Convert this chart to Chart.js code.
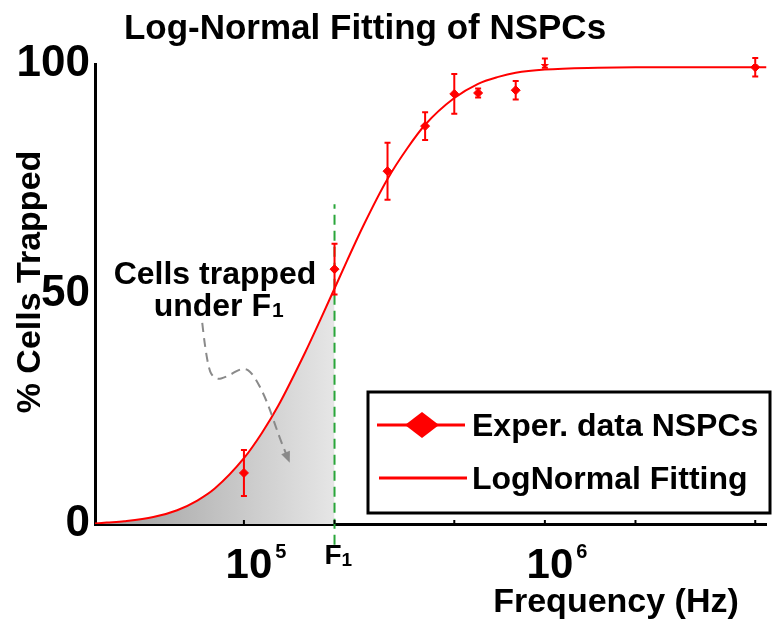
<!DOCTYPE html>
<html>
<head>
<meta charset="utf-8">
<script src="https://cdn.jsdelivr.net/npm/chart.js@4"></script>
<style>
  body{margin:0;background:#fff}
  #canvasContainer{width:772px;height:622px}
</style>
</head>
<body>
<div id="canvasContainer"><canvas id="myChart"></canvas></div>
<script>
// datos experimentales (Hz, % atrapadas, error)
const frecuencias = [1e5, 2e5, 3e5, 4e5, 5e5, 6e5, 8e5, 1e6, 5e6]
const porcentajes = [11.1, 55.4, 76.7, 86.5, 93.5, 93.7, 94.3, 100.2, 99.3]
const errores = [5, 5.5, 6.2, 3, 4.3, 1, 2, 1, 2]

// curva de ajuste
const ajusteX = [3.2e4, 3.5e4, 4e4, 5e4, 6e4, 7e4, 8e4, 1e5, 1.15e5, 1.3e5, 1.6e5, 1.8e5, 2e5, 2.2e5, 2.5e5, 3e5, 3.5e5, 4e5, 5e5, 6e5, 7e5, 8e5, 1e6, 1.5e6, 2e6, 5.45e6]
const ajusteY = [0.1, 0.3, 0.6, 1.5, 3.0, 5.1, 7.7, 14.3, 19.9, 25.7, 37.4, 44.6, 51.2, 57.2, 65, 75, 81.8, 86.8, 92.6, 95.7, 97.2, 98.1, 98.8, 99.2, 99.3, 99.3]

const F1 = 2e5
const ticksX = [1e5, 2e5, 5e5, 1e6, 2e6, 5e6]
const ticksY = [0, 50, 100]
const etiquetasX = [
  {valor: 1e5, texto: '10', sup: '5'},
  {valor: F1, texto: 'F', sub: '1'},
  {valor: 1e6, texto: '10', sup: '6'}
]

// flecha "Cells trapped under F1"
const flechaX = [7.27e4, 7.55e4, 8.02e4, 8.79e4, 9.93e4, 1.07e5, 1.19e5, 1.31e5, 1.42e5]
const flechaY = [43.7, 34.1, 31.3, 32.0, 34.1, 32.8, 27, 18.9, 13.3]

const rojo = '#ff0000'
const fuente = '"Liberation Sans", Arial, sans-serif'

const puntos = frecuencias.map((f, i) => ({x: f, y: porcentajes[i]}))
const curva = ajusteX.map((f, i) => ({x: f, y: ajusteY[i]}))
const area = curva.filter(p => p.x <= F1)

const errorBars = {
  id: 'errorBars',
  afterDatasetsDraw(chart) {
    const {ctx, scales: {x, y}} = chart
    ctx.save()
    ctx.strokeStyle = rojo
    ctx.lineWidth = 2
    frecuencias.forEach((f, i) => {
      const px = x.getPixelForValue(f)
      const y1 = y.getPixelForValue(porcentajes[i] + errores[i])
      const y2 = y.getPixelForValue(porcentajes[i] - errores[i])
      ctx.beginPath()
      ctx.moveTo(px, y1); ctx.lineTo(px, y2)
      ctx.moveTo(px - 3, y1); ctx.lineTo(px + 3, y1)
      ctx.moveTo(px - 3, y2); ctx.lineTo(px + 3, y2)
      ctx.stroke()
    })
    ctx.restore()
  }
}

const textos = {
  id: 'textos',
  afterDraw(chart) {
    const {ctx, scales: {x, y}, chartArea} = chart
    ctx.save()
    ctx.fillStyle = '#000'
    ctx.textBaseline = 'alphabetic'

    // titulo
    ctx.font = 'bold 35px ' + fuente
    ctx.textAlign = 'center'
    ctx.fillText('Log-Normal Fitting of NSPCs', 365, 39)

    // titulo eje y
    ctx.save()
    ctx.translate(40, 282)
    ctx.rotate(-Math.PI / 2)
    ctx.font = 'bold 34px ' + fuente
    ctx.fillText('% Cells Trapped', 0, 0)
    ctx.restore()

    // titulo eje x
    ctx.font = 'bold 34px ' + fuente
    ctx.fillText('Frequency (Hz)', 616, 612)

    // marcas eje x
    ctx.strokeStyle = '#000'
    ctx.lineWidth = 2
    ticksX.forEach(v => {
      const px = x.getPixelForValue(v)
      ctx.beginPath(); ctx.moveTo(px, chartArea.bottom); ctx.lineTo(px, chartArea.bottom - 4); ctx.stroke()
    })

    // etiquetas eje x
    etiquetasX.forEach(e => {
      const px = x.getPixelForValue(e.valor)
      if (e.sup) {
        ctx.font = 'bold 42px ' + fuente
        ctx.textAlign = 'center'
        const w = ctx.measureText(e.texto).width
        ctx.fillText(e.texto, px + 5, 578)
        ctx.font = 'bold 20px ' + fuente
        ctx.textAlign = 'left'
        ctx.fillText(e.sup, px + 5 + w / 2 + 3, 558)
      } else {
        ctx.font = 'bold 28px ' + fuente
        ctx.textAlign = 'right'
        ctx.fillText(e.texto, px + 7, 564)
        ctx.font = 'bold 19px ' + fuente
        ctx.textAlign = 'left'
        ctx.fillText(e.sub, px + 7, 566)
      }
    })

    // anotacion
    ctx.font = 'bold 32px ' + fuente
    ctx.textAlign = 'center'
    ctx.fillText('Cells trapped', 215, 284)
    ctx.textAlign = 'right'
    ctx.fillText('under F', 271, 316)
    ctx.font = 'bold 21px ' + fuente
    ctx.textAlign = 'left'
    ctx.fillText('1', 272, 317)

    // flecha discontinua
    const pts = flechaX.map((f, i) => [x.getPixelForValue(f), y.getPixelForValue(flechaY[i])])
    ctx.strokeStyle = '#8a8a8a'
    ctx.fillStyle = '#8a8a8a'
    ctx.lineWidth = 2
    ctx.setLineDash([9, 6])
    ctx.beginPath()
    ctx.moveTo(pts[0][0], pts[0][1])
    for (let i = 1; i < pts.length - 1; i++) {
      const mx = (pts[i][0] + pts[i + 1][0]) / 2
      const my = (pts[i][1] + pts[i + 1][1]) / 2
      ctx.quadraticCurveTo(pts[i][0], pts[i][1], mx, my)
    }
    const fin = pts[pts.length - 1], prev = pts[pts.length - 2]
    const ang = Math.atan2(fin[1] - prev[1], fin[0] - prev[0])
    ctx.lineTo(fin[0] - 8 * Math.cos(ang), fin[1] - 8 * Math.sin(ang))
    ctx.stroke()
    ctx.setLineDash([])
    ctx.beginPath()
    ctx.moveTo(fin[0], fin[1])
    ctx.lineTo(fin[0] - 12 * Math.cos(ang - 0.4), fin[1] - 12 * Math.sin(ang - 0.4))
    ctx.lineTo(fin[0] - 12 * Math.cos(ang + 0.4), fin[1] - 12 * Math.sin(ang + 0.4))
    ctx.closePath()
    ctx.fill()

    // leyenda
    ctx.fillStyle = '#fff'
    ctx.fillRect(368, 392, 402, 121)
    ctx.strokeStyle = '#000'
    ctx.lineWidth = 3
    ctx.strokeRect(368, 392, 402, 121)
    ctx.strokeStyle = rojo
    ctx.fillStyle = rojo
    ctx.lineWidth = 3
    ctx.beginPath(); ctx.moveTo(377, 425); ctx.lineTo(465, 425); ctx.stroke()
    ctx.beginPath()
    ctx.moveTo(405, 425); ctx.lineTo(422, 412); ctx.lineTo(439, 425); ctx.lineTo(422, 438)
    ctx.closePath(); ctx.fill()
    ctx.beginPath(); ctx.moveTo(379, 478); ctx.lineTo(467, 478); ctx.stroke()
    ctx.fillStyle = '#000'
    ctx.font = 'bold 32px ' + fuente
    ctx.textAlign = 'left'
    ctx.fillText('Exper. data NSPCs', 472, 436)
    ctx.fillText('LogNormal Fitting', 472, 489)

    ctx.restore()
  }
}

const ctx = document.getElementById('myChart').getContext('2d')

myChart = new Chart(ctx, {
  type: 'line',
  data: {
    datasets: [
      {
        label: 'Exper. data NSPCs',
        data: puntos,
        showLine: false,
        pointStyle: 'rectRot',
        pointRadius: 4.5,
        backgroundColor: rojo,
        borderColor: rojo
      },
      {
        label: 'LogNormal Fitting',
        data: curva,
        borderColor: rojo,
        borderWidth: 2,
        pointRadius: 0,
        cubicInterpolationMode: 'monotone',
        fill: false
      },
      {
        label: 'F1',
        data: [{x: F1, y: -4.5}, {x: F1, y: 69.5}],
        borderColor: '#2aa63a',
        borderWidth: 2,
        borderDash: [10, 6],
        pointRadius: 0,
        clip: false,
        fill: false
      },
      {
        label: 'area',
        data: area,
        borderWidth: 0,
        borderColor: 'rgba(0,0,0,0)',
        pointRadius: 0,
        cubicInterpolationMode: 'monotone',
        fill: 'origin',
        backgroundColor: (c) => {
          const chart = c.chart
          if (!chart.chartArea) return '#cccccc'
          const x0 = chart.scales.x.getPixelForValue(4.5e4)
          const x1 = chart.scales.x.getPixelForValue(F1)
          const g = chart.ctx.createLinearGradient(x0, 0, x1, 0)
          g.addColorStop(0, '#a9a9a9')
          g.addColorStop(1, '#e6e6e6')
          return g
        }
      }
    ]
  },
  options: {
    responsive: true,
    maintainAspectRatio: false,
    animation: false,
    layout: {padding: {top: 64, right: 2, left: 0, bottom: 0}},
    plugins: {legend: {display: false}, tooltip: {enabled: false}},
    scales: {
      x: {
        type: 'logarithmic',
        min: 3.2e4,
        max: 5.45e6,
        afterBuildTicks: s => { s.ticks = ticksX.map(v => ({value: v})) },
        afterFit: s => { s.height = 98 },
        ticks: {display: false},
        grid: {display: false},
        border: {color: '#000', width: 3}
      },
      y: {
        min: 0,
        max: 100,
        afterBuildTicks: s => { s.ticks = ticksY.map(v => ({value: v})) },
        afterFit: s => { s.width = 95 },
        ticks: {color: '#000', padding: 5, font: {family: fuente, size: 44, weight: 'bold'}},
        grid: {display: false, drawTicks: false},
        border: {color: '#000', width: 3}
      }
    }
  },
  plugins: [errorBars, textos]
})
</script>
</body>
</html>
